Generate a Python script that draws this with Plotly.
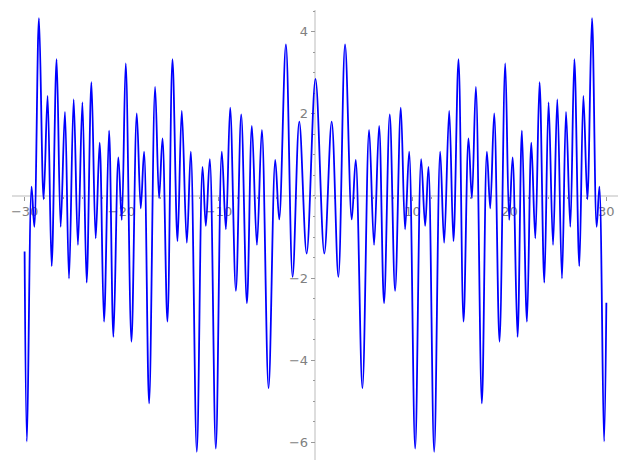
import plotly.graph_objects as go

# Local extrema of the curve for x >= 0 (curve is even)
x_right = [0, 0.91, 1.67, 2.36, 3.05, 3.74, 4.15, 4.84,
           5.53, 6.04, 6.56, 7.07, 7.66, 8.21, 8.80, 9.24, 9.66,
           10.28, 10.90, 11.31, 11.65, 12.24, 12.86, 13.27, 13.79, 14.23, 14.75, 15.27,
           15.78, 16.13, 16.54, 17.16, 17.68, 18.02, 18.43, 18.98, 19.57, 19.98, 20.33,
           20.84, 21.29, 21.81, 22.26, 22.67, 23.11, 23.60, 24.04, 24.50, 24.94, 25.42,
           25.84, 26.28, 26.70, 27.21, 27.63, 28.04, 28.52, 29.00, 29.28, 29.76]
y_right = [2.85, -1.40, 1.81, -1.97, 3.69, -0.57, 0.88, -4.68,
           1.61, -1.19, 1.71, -2.61, 1.99, -2.31, 2.15, -0.81, 1.08,
           -6.15, 0.90, -0.73, 0.71, -6.23, 1.08, -1.14, 2.07, -1.10, 3.33, -3.06,
           1.40, -0.06, 2.66, -5.05, 1.08, -0.30, 2.01, -3.55, 3.23, -0.58, 0.94,
           -3.43, 1.59, -3.06, 1.30, -1.03, 2.77, -2.11, 2.28, -1.19, 2.35, -2.01,
           2.05, -0.75, 3.33, -1.71, 2.44, -0.08, 4.33, -0.75, 0.23, -5.98]
left_end = (-30, -1.35)
right_end = (30, -2.60)

x_ticks = [-30, -20, -10, 10, 20, 30]
y_ticks = [-6, -4, -2, 2, 4]

X_RANGE = [-31.3, 31.2]
Y_RANGE = [-6.43, 4.53]

AXIS_COLOR = "#dddddd"
TICK_COLOR = "#999999"
TEXT_COLOR = "#808080"

xs = [left_end[0]] + [-v for v in reversed(x_right[1:])] + x_right + [right_end[0]]
ys = [left_end[1]] + list(reversed(y_right[1:])) + y_right + [right_end[1]]

fig = go.Figure(go.Scatter(
    x=xs, y=ys, mode="lines",
    line=dict(color="#0000ff", width=1.8, shape="spline", smoothing=1),
    hoverinfo="skip",
))

# axes cross at the origin like the original
x_pos = (0 - Y_RANGE[0]) / (Y_RANGE[1] - Y_RANGE[0])
y_pos = (0 - X_RANGE[0]) / (X_RANGE[1] - X_RANGE[0])

axis_common = dict(
    showgrid=False, zeroline=False, showline=True, linecolor=AXIS_COLOR, linewidth=1.5,
    ticks="outside", ticklen=4, tickcolor=TICK_COLOR, tickwidth=1,
    tickfont=dict(family="DejaVu Sans", size=13, color=TEXT_COLOR),
    anchor="free", automargin=False, layer="below traces",
)

# page body adds an 8px offset, so the figure is trimmed by that much
fig.update_layout(
    width=619, height=462,
    margin=dict(l=4, r=9, t=2, b=10),
    plot_bgcolor="white", paper_bgcolor="white",
    showlegend=False,
    xaxis=dict(**axis_common, range=X_RANGE, position=x_pos,
               tickmode="array", tickvals=x_ticks,
               minor=dict(dtick=2, tick0=0, ticks="outside", ticklen=2,
                          tickcolor=TICK_COLOR, showgrid=False)),
    yaxis=dict(**axis_common, range=Y_RANGE, position=y_pos,
               tickmode="array", tickvals=y_ticks,
               minor=dict(dtick=0.5, tick0=0, ticks="outside", ticklen=2,
                          tickcolor=TICK_COLOR, showgrid=False)),
)

fig.write_html("out.html")
